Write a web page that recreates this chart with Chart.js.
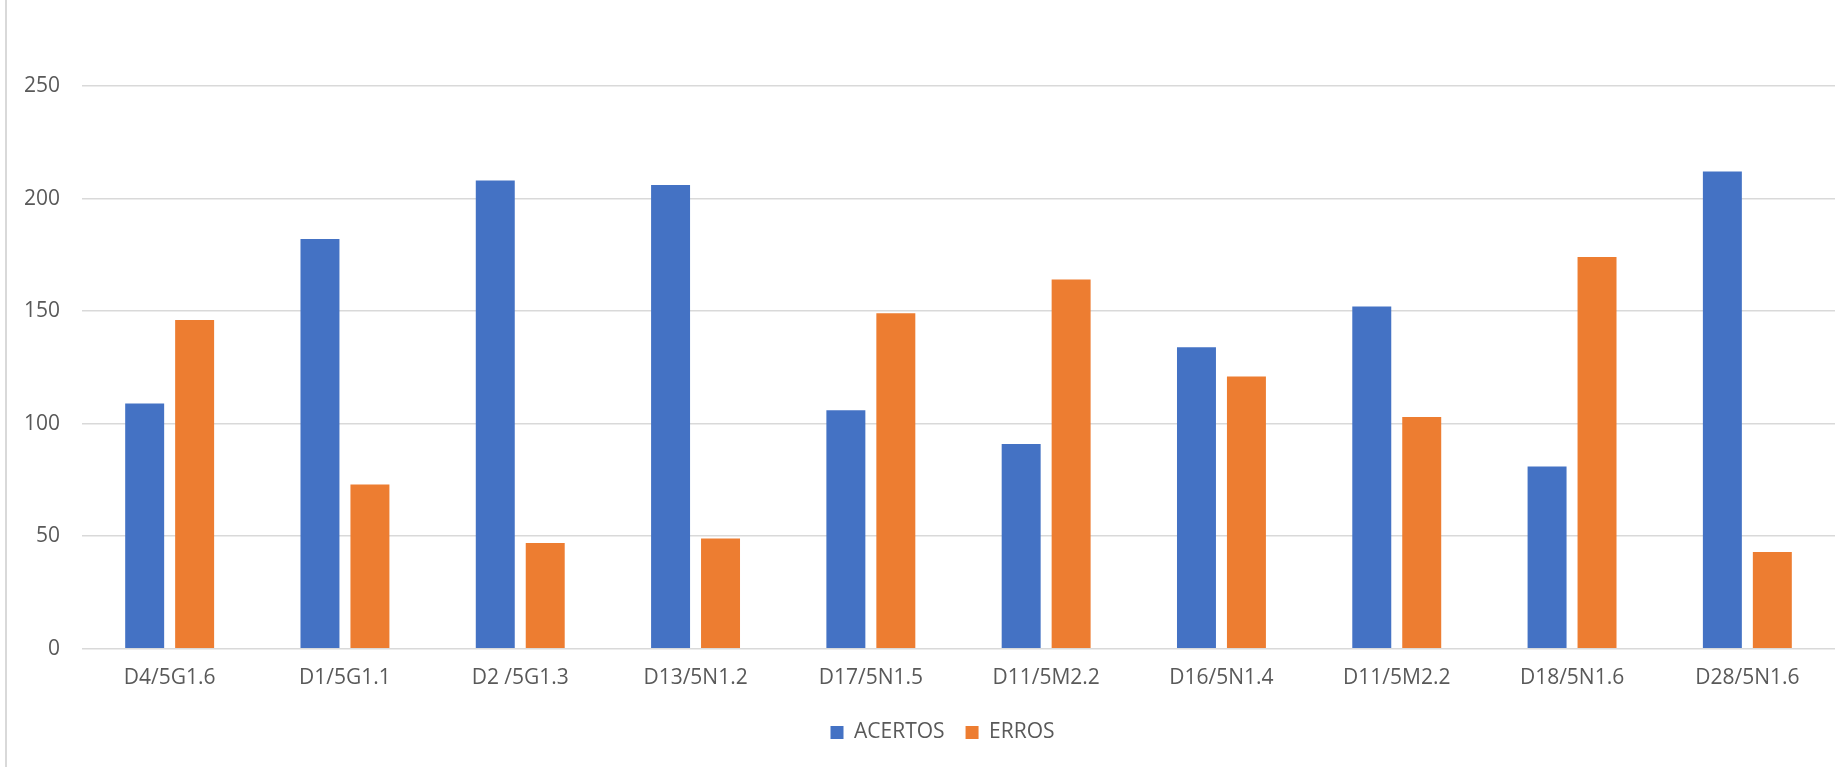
<!DOCTYPE html>
<html lang="pt">
<head>
<meta charset="utf-8">
<title>Acertos e Erros por descritor</title>
<script src="https://cdn.jsdelivr.net/npm/chart.js@4.4.1/dist/chart.umd.min.js"></script>
<style>
    html, body { margin: 0; padding: 0; background: #fff; }
    .wrap { position: relative; width: 1842px; height: 767px; }
    .wrap::before {
        content: '';
        position: absolute;
        left: 5px; top: 0; bottom: 0;
        width: 2px;
        background: #d9d9d9;
    }
    canvas { display: block; }
</style>
</head>
<body>
<div class="wrap">
    <canvas id="descChart" width="1842" height="767"></canvas>
</div>
<script>
// dados
const labels = ['D4/5G1.6', 'D1/5G1.1', 'D2 /5G1.3', 'D13/5N1.2', 'D17/5N1.5', 'D11/5M2.2', 'D16/5N1.4', 'D11/5M2.2', 'D18/5N1.6', 'D28/5N1.6'];
const acertos = [109, 182, 208, 206, 106, 91, 134, 152, 81, 212];
const erros = [146, 73, 47, 49, 149, 164, 121, 103, 174, 43];
const yTicks = [0, 50, 100, 150, 200, 250];

const textColor = '#595959';
const gridColor = '#d9d9d9';
const font = { family: "'Open Sans', 'Noto Sans', sans-serif", size: 21 };

// the legend in the original sits a bit right of the canvas centre
const shiftLegend = {
    id: 'shiftLegend',
    afterLayout: chart => {
        if (!chart.legend) return;
        chart.legend.left += 25;
        chart.legend.right += 25;
    }
};

const initChart = () => {
    const ctx = document.getElementById('descChart');
    new Chart(ctx, {
        type: 'bar',
        data: {
            labels: labels,
            datasets: [
                { label: 'ACERTOS', data: acertos, backgroundColor: '#4472c4' },
                { label: 'ERROS', data: erros, backgroundColor: '#ed7d31' }
            ]
        },
        options: {
            responsive: false,
            animation: false,
            devicePixelRatio: 1,
            categoryPercentage: 0.57,
            barPercentage: 0.78,
            layout: { padding: { top: 86, right: 7, bottom: 14, left: 0 } },
            plugins: {
                tooltip: { enabled: false },
                legend: {
                    position: 'bottom',
                    labels: {
                        color: textColor,
                        font: font,
                        boxWidth: 13,
                        boxHeight: 13,
                        padding: 21
                    }
                }
            },
            scales: {
                x: {
                    afterFit: scale => { scale.height -= 7; },
                    grid: { drawOnChartArea: false, drawTicks: false },
                    border: { display: false },
                    ticks: { color: textColor, font: font, padding: 17, maxRotation: 0, autoSkip: false }
                },
                y: {
                    min: 0,
                    max: 250,
                    afterFit: scale => { scale.width = 82; },
                    afterBuildTicks: scale => { scale.ticks = yTicks.map(v => ({ value: v })); },
                    grid: { color: gridColor, lineWidth: 1.5, drawTicks: false },
                    border: { display: false },
                    ticks: { color: textColor, font: font, padding: 22 }
                }
            }
        },
        plugins: [shiftLegend]
    });
};

document.addEventListener('DOMContentLoaded', initChart);
</script>
</body>
</html>
